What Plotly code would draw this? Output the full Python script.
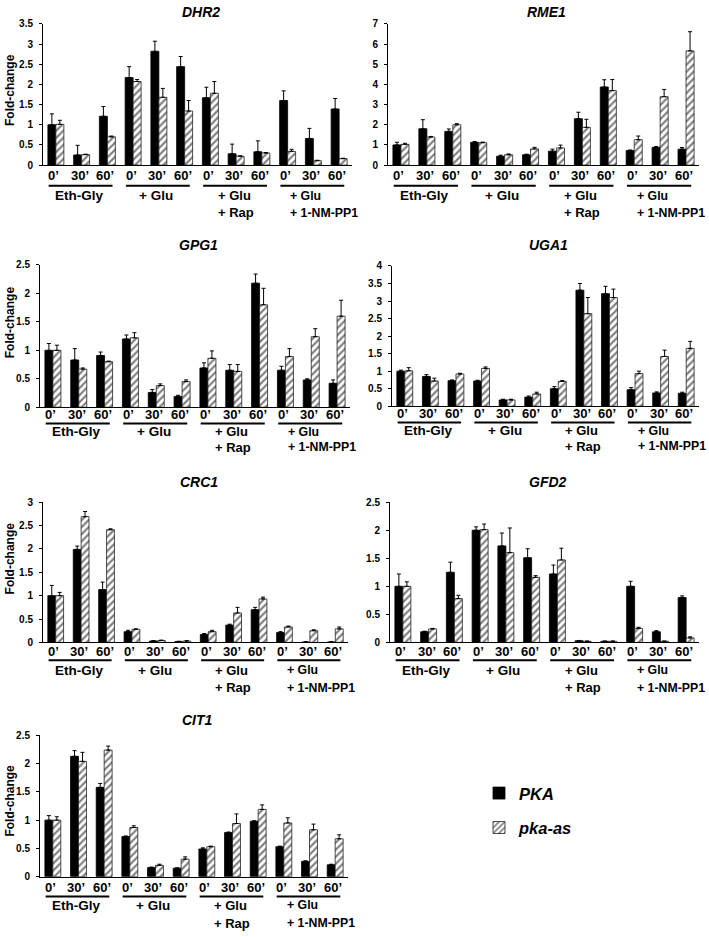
import plotly.graph_objects as go

W, H = 709, 937
FONT = "Liberation Sans, Arial, sans-serif"

# ---------------- data ----------------
times = ["0’", "30’", "60’"]
groups = [["Eth-Gly"], ["+ Glu"], ["+ Glu", "+ Rap"], ["+ Glu", "+ 1-NM-PP1"]]
genes = ["DHR2", "RME1", "GPG1", "UGA1", "CRC1", "GFD2", "CIT1"]
series_names = ["PKA", "pka-as"]
y_label = "Fold-change"

YMAX = [3.5, 7, 2.5, 4, 3, 2.5, 2.5]
YSTEP = [0.5, 1, 0.5, 0.5, 0.5, 0.5, 0.5]

DHR2_PKA = [1.00, 0.25, 1.21, 2.17, 2.82, 2.44, 1.67, 0.28, 0.33, 1.60, 0.66, 1.39]
DHR2_PKA_ERR = [0.27, 0.24, 0.24, 0.27, 0.25, 0.25, 0.26, 0.24, 0.27, 0.24, 0.25, 0.26]
DHR2_AS = [1.01, 0.26, 0.70, 2.07, 1.68, 1.34, 1.78, 0.22, 0.30, 0.34, 0.11, 0.16]
DHR2_AS_ERR = [0.10, 0.01, 0.02, 0.05, 0.22, 0.26, 0.29, 0.01, 0.01, 0.05, 0.01, 0.01]

RME1_PKA = [1.00, 1.80, 1.67, 1.13, 0.44, 0.51, 0.69, 2.30, 3.87, 0.72, 0.88, 0.79]
RME1_PKA_ERR = [0.13, 0.45, 0.12, 0.04, 0.05, 0.03, 0.10, 0.32, 0.36, 0.03, 0.04, 0.08]
RME1_AS = [1.03, 1.39, 2.00, 1.11, 0.51, 0.80, 0.85, 1.87, 3.69, 1.26, 3.39, 5.66]
RME1_AS_ERR = [0.05, 0.03, 0.05, 0.03, 0.04, 0.08, 0.14, 0.40, 0.55, 0.18, 0.36, 0.95]

GPG1_PKA = [1.00, 0.83, 0.91, 1.20, 0.26, 0.19, 0.69, 0.65, 2.18, 0.65, 0.48, 0.42]
GPG1_PKA_ERR = [0.12, 0.20, 0.06, 0.07, 0.05, 0.02, 0.09, 0.10, 0.16, 0.07, 0.02, 0.06]
GPG1_AS = [1.00, 0.67, 0.80, 1.22, 0.38, 0.45, 0.86, 0.63, 1.80, 0.89, 1.24, 1.60]
GPG1_AS_ERR = [0.09, 0.02, 0.01, 0.09, 0.03, 0.03, 0.13, 0.12, 0.29, 0.14, 0.14, 0.28]

UGA1_PKA = [1.00, 0.85, 0.73, 0.72, 0.18, 0.26, 0.50, 3.31, 3.21, 0.47, 0.38, 0.37]
UGA1_PKA_ERR = [0.03, 0.05, 0.02, 0.02, 0.02, 0.03, 0.06, 0.19, 0.21, 0.06, 0.03, 0.03]
UGA1_AS = [1.01, 0.72, 0.92, 1.08, 0.18, 0.35, 0.71, 2.64, 3.10, 0.93, 1.42, 1.65]
UGA1_AS_ERR = [0.09, 0.08, 0.02, 0.04, 0.02, 0.05, 0.02, 0.46, 0.24, 0.07, 0.18, 0.20]

CRC1_PKA = [1.00, 1.99, 1.13, 0.23, 0.03, 0.02, 0.17, 0.37, 0.70, 0.21, 0.01, 0.01]
CRC1_PKA_ERR = [0.22, 0.07, 0.16, 0.03, 0.01, 0.005, 0.02, 0.02, 0.05, 0.02, 0.005, 0.005]
CRC1_AS = [1.00, 2.69, 2.41, 0.28, 0.04, 0.03, 0.23, 0.63, 0.93, 0.33, 0.25, 0.29]
CRC1_AS_ERR = [0.07, 0.11, 0.02, 0.01, 0.01, 0.005, 0.03, 0.12, 0.04, 0.02, 0.02, 0.04]

GFD2_PKA = [1.00, 0.19, 1.25, 2.00, 1.72, 1.51, 1.22, 0.03, 0.02, 1.00, 0.19, 0.80]
GFD2_PKA_ERR = [0.22, 0.01, 0.18, 0.06, 0.23, 0.16, 0.16, 0.005, 0.005, 0.09, 0.02, 0.03]
GFD2_AS = [1.00, 0.24, 0.78, 2.01, 1.60, 1.16, 1.47, 0.02, 0.02, 0.25, 0.02, 0.08]
GFD2_AS_ERR = [0.08, 0.01, 0.06, 0.10, 0.44, 0.03, 0.21, 0.005, 0.005, 0.02, 0.005, 0.02]

CIT1_PKA = [1.00, 2.13, 1.58, 0.71, 0.16, 0.15, 0.49, 0.78, 0.98, 0.53, 0.27, 0.21]
CIT1_PKA_ERR = [0.08, 0.10, 0.07, 0.01, 0.01, 0.005, 0.02, 0.01, 0.01, 0.01, 0.01, 0.01]
CIT1_AS = [1.00, 2.04, 2.24, 0.87, 0.20, 0.31, 0.53, 0.94, 1.19, 0.95, 0.83, 0.67]
CIT1_AS_ERR = [0.06, 0.16, 0.07, 0.03, 0.02, 0.04, 0.01, 0.17, 0.08, 0.09, 0.10, 0.07]

PKA = [DHR2_PKA, RME1_PKA, GPG1_PKA, UGA1_PKA, CRC1_PKA, GFD2_PKA, CIT1_PKA]
PKA_ERR = [DHR2_PKA_ERR, RME1_PKA_ERR, GPG1_PKA_ERR, UGA1_PKA_ERR, CRC1_PKA_ERR, GFD2_PKA_ERR, CIT1_PKA_ERR]
AS = [DHR2_AS, RME1_AS, GPG1_AS, UGA1_AS, CRC1_AS, GFD2_AS, CIT1_AS]
AS_ERR = [DHR2_AS_ERR, RME1_AS_ERR, GPG1_AS_ERR, UGA1_AS_ERR, CRC1_AS_ERR, GFD2_AS_ERR, CIT1_AS_ERR]

# ---------------- layout (pixel boxes) ----------------
# (left, right, top, bottom) of each plot area in pixels
BOXES = [(43, 352, 19, 162), (388, 699, 19, 162),
         (40, 350, 263, 407), (392, 699, 264, 406),
         (43, 348, 503, 645), (390, 699, 503, 645),
         (40, 348, 739, 882)]
# offsets below axis: time label, underline, group line 1, group line 2
ROW_OFF = [(11, 21, 31, 48), (7.5, 16.5, 25, 40.5), (9, 18, 28, 46), (11, 20, 29, 47)]
TITLE_Y = [7, 243, 483, 723]
YLAB_Y = [86, 321, 560, 805]


def px_x(p):
    return p / W


def px_y(p):
    return 1 - p / H


fig = go.Figure()
annotations = []
shapes = []
cats = list(range(len(times) * len(groups)))

for i, gene in enumerate(genes):
    n = "" if i == 0 else str(i + 1)
    left, right, top, bot = BOXES[i]
    row = i // 2
    col = i % 2

    fig.add_trace(go.Bar(
        x=cats, y=PKA[i], name=series_names[0], xaxis="x" + n, yaxis="y" + n,
        marker=dict(color="black", line=dict(color="black", width=0.8)),
        error_y=dict(type="data", array=PKA_ERR[i], arrayminus=[0] * 12, symmetric=False,
                     color="black", thickness=1, width=2),
        showlegend=(i == 0), legendgroup="g1",
    ))
    fig.add_trace(go.Bar(
        x=cats, y=AS[i], name=series_names[1], xaxis="x" + n, yaxis="y" + n,
        marker=dict(color="white",
                    pattern=dict(shape="/", fgcolor="black", bgcolor="white", size=5, solidity=0.42),
                    line=dict(color="#222", width=0.8)),
        error_y=dict(type="data", array=AS_ERR[i], arrayminus=[0] * 12, symmetric=False,
                     color="black", thickness=1, width=2),
        showlegend=(i == 0), legendgroup="g2",
    ))

    fig.update_layout(**{
        "xaxis" + n: dict(domain=[px_x(left), px_x(right)], anchor="y" + n,
                          range=[-0.5, 11.5], showline=True, linecolor="black", linewidth=1,
                          ticks="", showticklabels=False, showgrid=False, zeroline=False,
                          fixedrange=True),
        "yaxis" + n: dict(domain=[px_y(bot), px_y(top)], anchor="x" + n,
                          range=[0, YMAX[i] * 1.0005], tick0=0, dtick=YSTEP[i],
                          showline=True, linecolor="black", linewidth=1,
                          ticks="outside", ticklen=3, tickcolor="black", tickwidth=1,
                          ticklabelstandoff=4,
                          tickfont=dict(family=FONT, size=10, color="black", weight="bold"),
                          showgrid=False, zeroline=False, fixedrange=True),
    })

    xr = "x" + n
    t_off, u_off, g1_off, g2_off = ROW_OFF[row]

    # title
    annotations.append(dict(
        text=gene, x=px_x((left + right) / 2 + 3), y=px_y(TITLE_Y[row]), xref="paper", yref="paper",
        showarrow=False, xanchor="center", yanchor="middle",
        font=dict(family=FONT, size=14, color="black", weight="bold", style="italic")))

    # y label
    if col == 0:
        annotations.append(dict(
            text=y_label, x=px_x(10), y=px_y(YLAB_Y[row]), xref="paper", yref="paper",
            showarrow=False, textangle=-90, xanchor="center", yanchor="middle",
            font=dict(family=FONT, size=12, color="black", weight="bold")))

    # time labels
    for k in cats:
        annotations.append(dict(
            text=times[k % 3], x=k - 0.08, y=px_y(bot + t_off), xref=xr, yref="paper",
            showarrow=False, xanchor="center", yanchor="middle",
            font=dict(family=FONT, size=13, color="black", weight="bold")))

    # group underlines and labels
    for g, lines in enumerate(groups):
        shapes.append(dict(type="line", xref=xr, yref="paper",
                           x0=g * 3 - 0.28, x1=g * 3 + 2.2,
                           y0=px_y(bot + u_off), y1=px_y(bot + u_off),
                           line=dict(color="black", width=2)))
        if len(lines) == 1:
            gx, anchor, fs = g * 3 + 0.9, "center", 13.5
        else:
            gx, anchor, fs = (g * 3 + 0.2, "left", 13) if g == 2 else (g * 3 + 0.03, "left", 12.3)
        for li, txt in enumerate(lines):
            annotations.append(dict(
                text=txt, x=gx, y=px_y(bot + (g1_off if li == 0 else g2_off)),
                xref=xr, yref="paper", showarrow=False, xanchor=anchor, yanchor="middle",
                font=dict(family=FONT, size=fs, color="black", weight="bold")))

fig.update_layout(
    width=W, height=H, margin=dict(l=0, r=0, t=0, b=0),
    paper_bgcolor="white", plot_bgcolor="white",
    barmode="group", bargap=0.38, bargroupgap=0,
    annotations=annotations, shapes=shapes,
    showlegend=True,
    legend=dict(x=px_x(479), y=px_y(780), xanchor="left", yanchor="top",
                traceorder="grouped", tracegroupgap=10, bgcolor="rgba(0,0,0,0)",
                font=dict(family=FONT, size=16.5, color="black", weight="bold", style="italic")),
)

fig.write_html("out.html", config={"displayModeBar": False},
               post_script="document.body.style.margin='0';document.body.style.overflow='hidden';")
